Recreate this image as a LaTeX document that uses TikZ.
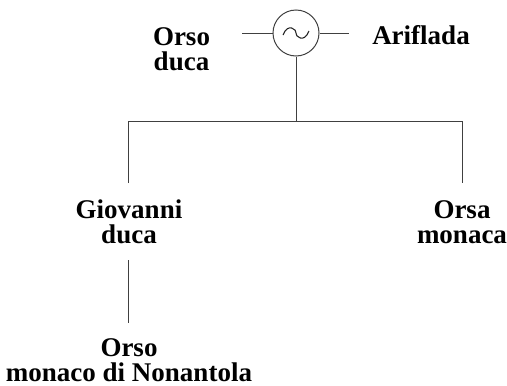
\documentclass[tikz,border=0pt]{standalone}
\usepackage{fontspec}
\setmainfont{Liberation Serif}[BoldFont={Liberation Serif Bold}]
\begin{document}
\begin{tikzpicture}[x=1pt,y=-1pt,
  person/.style={inner sep=0pt,align=center,font=\bfseries\fontsize{27}{25.5}\selectfont},
  link/.style={draw=black!75,line width=1pt}]
\useasboundingbox (0,0) rectangle (507,386);
\node[circle,draw=black!75,line width=1pt,minimum size=46pt,inner sep=0pt] (m) at (296,33) {};
\draw[black!85,line width=1.1pt] (283,35) .. controls (288,22) and (297,30) .. (296,33) .. controls (295,36) and (304,44) .. (309,31);
\node[person] (od) at (181.5,49) {Orso\\duca};
\node[person] (ar) at (421,35) {Ariflada};
\node[person] (gd) at (129,222) {Giovanni\\duca};
\node[person] (om) at (462,222) {Orsa\\monaca};
\node[person] (on) at (129,360) {Orso\\monaco di Nonantola};
\coordinate (ml) at (242,33);
\coordinate (mr) at (349,33);
\coordinate (j) at (296,121);
\coordinate (jl) at (128,121);
\coordinate (jr) at (462,121);
\coordinate (gl) at (128,183);
\coordinate (gr) at (462,183);
\coordinate (ct) at (128,260);
\coordinate (cb) at (128,323);
\draw[link] (m.west) -- (ml);
\draw[link] (m.east) -- (mr);
\draw[link] (m.south) -- (j);
\draw[link] (gl) -- (jl) -- (jr) -- (gr);
\draw[link] (ct) -- (cb);
\end{tikzpicture}
\end{document}
